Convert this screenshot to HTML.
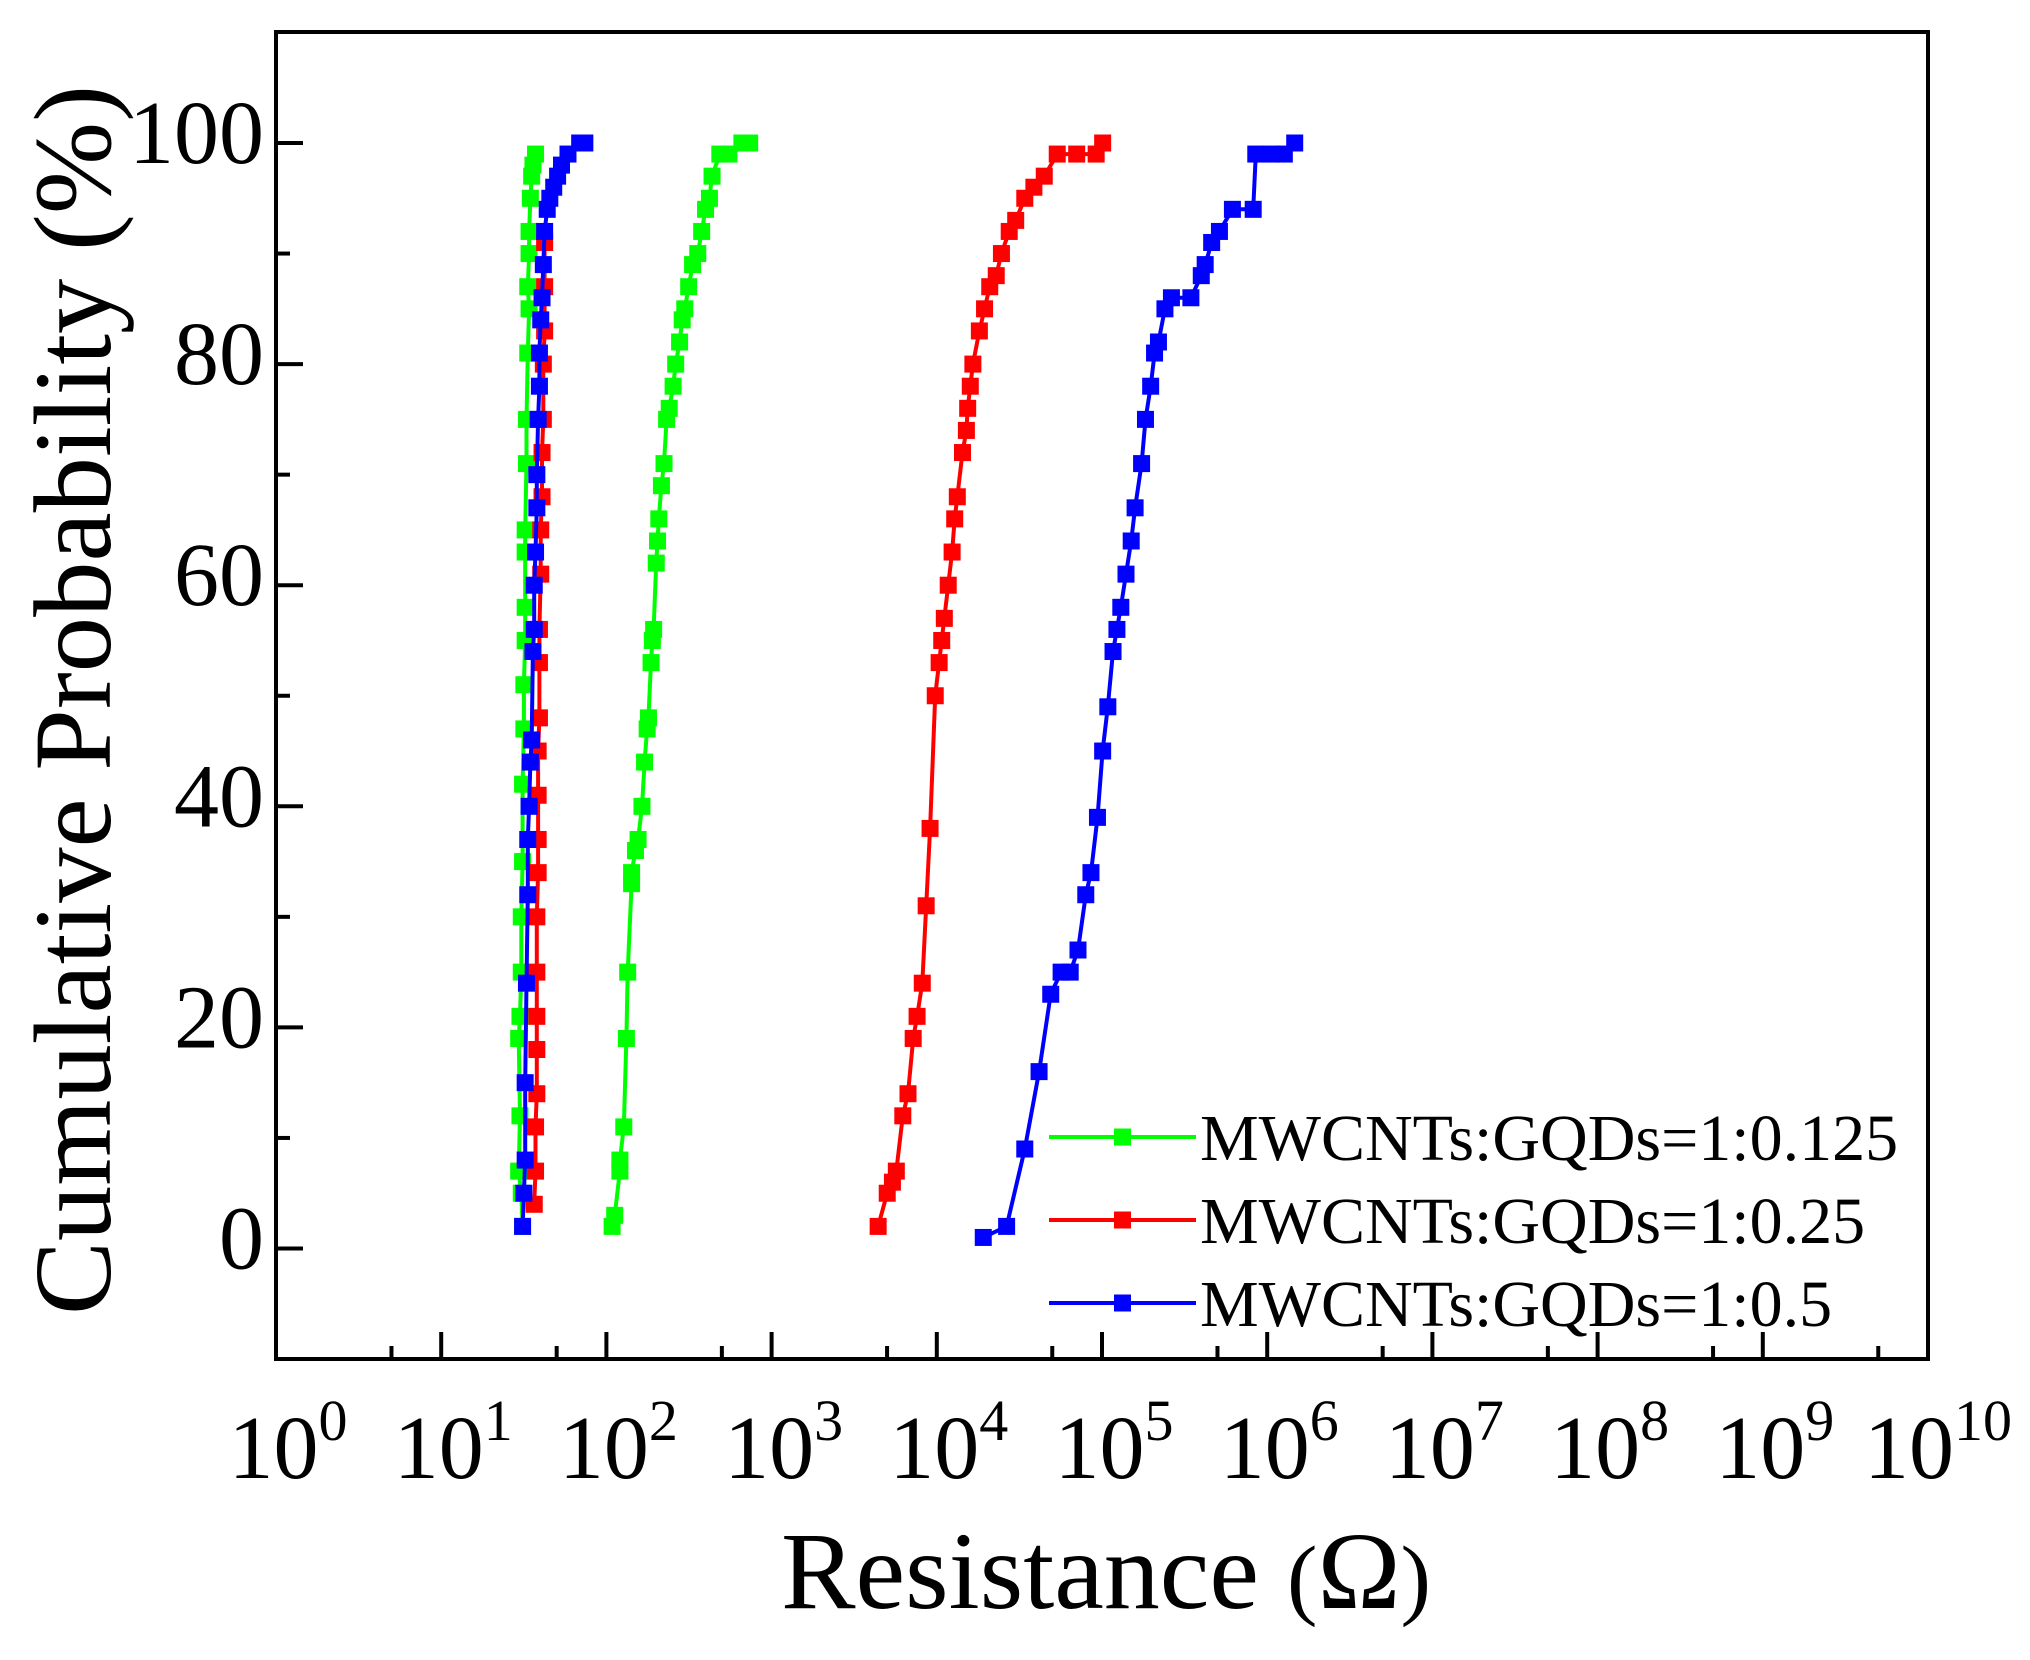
<!DOCTYPE html>
<html><head><meta charset="utf-8"><style>
html,body{margin:0;padding:0;background:#fff;}
svg{display:block;}
text{font-family:"Liberation Serif",serif;fill:#000;}
</style></head><body>
<svg id="s" width="2030" height="1660" viewBox="0 0 2030 1660" xmlns="http://www.w3.org/2000/svg">
<rect x="0" y="0" width="2030" height="1660" fill="#fff"/>
<g id="ticks"></g>
<g id="data"></g>
<rect x="276" y="32" width="1652" height="1327" fill="none" stroke="#000" stroke-width="4"/>
<g id="labels" font-size="90"></g>
<text x="110" y="700" font-size="110" text-anchor="middle" transform="rotate(-90 110 700)" textLength="1230" lengthAdjust="spacingAndGlyphs">Cumulative Probability (%)</text>
<text x="781" y="1608" font-size="110" textLength="650" lengthAdjust="spacingAndGlyphs">Resistance <tspan font-size="90">(</tspan>Ω<tspan font-size="90">)</tspan></text>
<g id="legend"></g>
</svg>
<script>
var NS="http://www.w3.org/2000/svg";
function el(p,n,a,t){var e=document.createElementNS(NS,n);for(var k in a)e.setAttribute(k,a[k]);if(t!==undefined)e.textContent=t;p.appendChild(e);return e;}
var X0=276,DEC=165.2,Y0=1248.5,PY=11.055;
function X(L){return X0+L*DEC;}
function Y(P){return Y0-P*PY;}
var tk=document.getElementById('ticks'),lb=document.getElementById('labels');
for(var i=0;i<=10;i++){
 var x=X(i);
 if(i>0&&i<10) el(tk,'line',{x1:x,y1:1359,x2:x,y2:1332,stroke:'#000','stroke-width':4});
 if(i<10){var xm=X(i+Math.log10(5));el(tk,'line',{x1:xm,y1:1359,x2:xm,y2:1346,stroke:'#000','stroke-width':4});}
 var t=el(lb,'text',{x:x+ (i==10?10:12),y:1478,'text-anchor':'middle'});
 el(t,'tspan',{},'10');
 el(t,'tspan',{dy:-38,'font-size':58},String(i));
}
for(var p=0;p<=100;p+=10){
 var y=Y(p);
 el(tk,'line',{x1:276,y1:y,x2:276+(p%20==0?27:14),y2:y,stroke:'#000','stroke-width':4});
 if(p%20==0) el(lb,'text',{x:264,y:y+20,'text-anchor':'end'},String(p));
}
function cv(arr){return arr.map(function(a){return [X((a[1]-213)/127.3),Y(a[0])];});}
var green1=[[2,403],[5,402],[7,400],[12,401],[19,400],[21,401],[25,402],[30,402],[35,403],[42,403],[47,404],[51,404],[55,405],[58,405],[63,405],[65,405],[71,406],[75,406],[81,407],[85,408],[87,407],[90,408],[92,408],[95,409],[97,410],[98,411],[99,413]];
var red1=[[4,412],[7,413],[11,413],[14,414],[18,414],[21,414],[25,414],[30,414],[34,415],[37,415],[41,415],[45,415],[48,416],[53,416],[56,416],[61,417],[65,417],[68,418],[72,418],[75,419],[80,419],[83,420],[87,420],[91,420]];
var blue1=[[2,403],[5,404],[8,405],[15,405],[24,406],[32,407],[37,407],[40,408],[44,409],[46,410],[54,411],[56,412],[60,412],[63,413],[67,414],[70,414],[75,415],[78,416],[81,416],[84,417],[86,418],[89,419],[92,420],[94,422],[95,424],[96,427],[97,430],[98,433],[99,438],[100,447],[100,451]];
var green2=[[2,472],[3,474],[7,478],[8,478],[11,481],[19,483],[25,484],[33,487],[34,487],[36,490],[37,492],[40,495],[44,497],[47,499],[48,500],[53,502],[55,503],[56,504],[62,506],[64,507],[66,508],[69,510],[71,512],[75,514],[76,516],[78,519],[80,521],[82,524],[84,526],[85,528],[87,531],[89,534],[90,538],[92,541],[94,544],[95,547],[97,549],[99,555],[99,562],[100,572],[100,578]];
var red2=[[2,677],[5,684],[6,688],[7,691],[12,696],[14,700],[19,704],[21,707],[24,711],[31,714],[38,717],[50,721],[53,724],[55,726],[57,728],[60,731],[63,734],[66,736],[68,738],[72,742],[74,745],[76,746],[78,748],[80,750],[83,755],[85,759],[87,763],[88,768],[90,772],[92,778],[93,783],[95,790],[96,797],[97,805],[99,815],[99,830],[99,845],[100,850]];
var blue2=[[1,758],[2,776],[9,790],[16,801],[23,810],[25,818],[25,825],[27,831],[32,837],[34,841],[39,846],[45,850],[49,854],[54,858],[56,861],[58,864],[61,868],[64,872],[67,875],[71,880],[75,883],[78,887],[81,890],[82,893],[85,898],[86,903],[86,918],[88,926],[89,929],[91,934],[92,940],[94,950],[94,966],[99,968],[99,980],[99,990],[100,998]];
var dg=document.getElementById('data');
function series(arr,c){
 var pts=cv(arr);
 el(dg,'polyline',{points:pts.map(function(p){return p[0].toFixed(1)+','+p[1].toFixed(1);}).join(' '),fill:'none',stroke:c,'stroke-width':4});
 pts.forEach(function(p){el(dg,'rect',{x:p[0]-8.5,y:p[1]-8.5,width:17,height:17,fill:c});});
}
series(green1,'#00ff00');series(red1,'#ff0000');series(blue1,'#0000ff');
series(green2,'#00ff00');series(red2,'#ff0000');series(blue2,'#0000ff');
var lg=document.getElementById('legend');
var items=[['#00ff00','MWCNTs:GQDs=1:0.125',1137],['#ff0000','MWCNTs:GQDs=1:0.25',1220],['#0000ff','MWCNTs:GQDs=1:0.5',1303]];
items.forEach(function(it){
 el(lg,'line',{x1:1049,y1:it[2],x2:1196,y2:it[2],stroke:it[0],'stroke-width':4});
 el(lg,'rect',{x:1114,y:it[2]-8.5,width:17,height:17,fill:it[0]});
 el(lg,'text',{x:1200,y:it[2]+23,'font-size':66},it[1]);
});
</script>
</body></html>
